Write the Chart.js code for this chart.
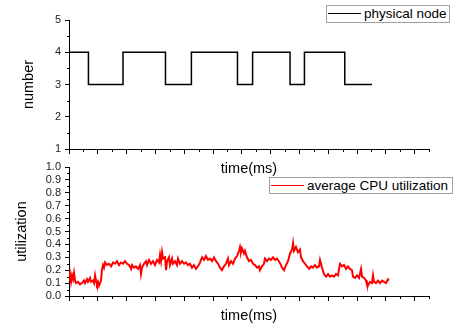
<!DOCTYPE html>
<html>
<head>
<meta charset="utf-8">
<script src="https://cdn.jsdelivr.net/npm/chart.js@4.4.1/dist/chart.umd.min.js"></script>
<style>
body { margin: 0; background: #fff; }
#wrap { position: relative; width: 454px; height: 325px; overflow: hidden; font-family: "Liberation Sans", Arial, sans-serif; }
canvas { position: absolute; left: 0; }
#cvTop { top: 0; }
#cvBottom { top: 155px; }
.legend { position: absolute; box-sizing: border-box; border: 1px solid #a0a0a0; background: #fff; z-index: 2; }
.legend .swatch { position: absolute; left: 1px; top: 7px; width: 33px; height: 0; border-top: 1.5px solid; }
.legend .txt { position: absolute; left: 37px; top: 0; font-size: 13.5px; line-height: 16px; color: #000; white-space: nowrap; }
</style>
</head>
<body>
<div id="wrap">
    <canvas id="cvTop" width="454" height="185"></canvas>
    <canvas id="cvBottom" width="454" height="170"></canvas>
    <div class="legend" style="left:326px; top:5px; width:124px; height:18px;">
        <span class="swatch" style="border-color:#000;"></span><span class="txt">physical node</span>
    </div>
    <div class="legend" style="left:269px; top:177px; width:184px; height:17px;">
        <span class="swatch" style="border-color:#ff0000;"></span><span class="txt">average CPU utilization</span>
    </div>
</div>
<script>
// physical node count (step changes)
const nodeTimes = [0, 13.5, 37.5, 67, 85, 117, 127.5, 153.5, 163.5, 191.5, 210.5];
const nodeCounts = [4, 3, 4, 3, 4, 3, 4, 3, 4, 3, 3];

// average CPU utilization
const cpuTimes = [0, 0.7, 1.4, 2.1, 2.8, 3.5, 4.2, 4.9, 6.25, 7.6, 9.0, 10.4, 11.1, 12.5, 13.2, 14.6, 15.3, 16.7, 17.4, 18.1,
    18.75, 19.4, 20.1, 20.8, 21.5, 22.2, 22.9, 23.6, 24.3, 25, 26.4, 27.8, 29.2, 30.6, 31.9, 33.3, 34.7, 36.1, 37.5, 38.9,
    40.3, 41.7, 43.1, 43.75, 45.1, 46.5, 47.9, 49.3, 50, 50.7, 52.1, 53.5, 54.2, 55.6, 56.9, 58.3, 59.7, 61.1, 62.5, 63.2,
    63.9, 64.6, 65.3, 66.7, 67.4, 68.1, 69.4, 70.1, 71.5, 72.2, 73.6, 75, 75.7, 77.1, 78.5, 79.9, 81.25, 82.6, 84, 85.4,
    86.8, 88.2, 89.6, 91, 92.4, 93.75, 95.1, 96.5, 97.9, 99.3, 100.7, 102.1, 103.5, 104.9, 106.25, 107.6, 109, 110.4, 111.1, 112.5,
    113.9, 115.3, 116.7, 118.1, 118.75, 119.4, 120.1, 121.5, 122.2, 123.6, 125, 126.4, 127.8, 129.2, 130.6, 131.9, 132.6, 134, 135.4, 136.1,
    137.5, 138.9, 140.3, 141.7, 143.1, 144.4, 145.8, 147.2, 147.9, 149.3, 150.7, 152.1, 153.5, 154.9, 155.6, 156.25, 157.6, 159, 160.4, 161.1,
    162.5, 163.9, 165.3, 166.7, 168.1, 169.4, 170.8, 172.2, 173.6, 174.3, 175.7, 177.1, 178.5, 179.9, 181.25, 182.6, 184, 185.4, 186.8, 187.5,
    188.2, 189.6, 191, 192.4, 193.75, 195.1, 196.5, 197.2, 198.6, 200, 201.4, 202.8, 203.5, 204.9, 206.25, 206.9, 207.6, 209, 210.4, 211.1,
    211.8, 213.2, 214.6, 216, 217.4, 218.75, 220.1, 221.5, 222.2];
const cpuValues = [0.12, 0.17, 0.11, 0.16, 0.13, 0.18, 0.12, 0.10, 0.11, 0.09, 0.10, 0.12, 0.10, 0.13, 0.11, 0.14, 0.11, 0.12, 0.10, 0.16,
    0.12, 0.09, 0.11, 0.08, 0.10, 0.12, 0.20, 0.24, 0.22, 0.26, 0.24, 0.25, 0.23, 0.26, 0.25, 0.27, 0.24, 0.26, 0.25, 0.27,
    0.25, 0.24, 0.21, 0.24, 0.22, 0.23, 0.21, 0.24, 0.17, 0.22, 0.25, 0.27, 0.24, 0.28, 0.25, 0.27, 0.24, 0.28, 0.26, 0.32,
    0.27, 0.34, 0.29, 0.30, 0.20, 0.27, 0.30, 0.24, 0.29, 0.25, 0.27, 0.24, 0.29, 0.25, 0.27, 0.25, 0.26, 0.24, 0.25, 0.22,
    0.24, 0.21, 0.23, 0.26, 0.30, 0.28, 0.31, 0.28, 0.29, 0.27, 0.30, 0.27, 0.25, 0.22, 0.20, 0.23, 0.25, 0.29, 0.24, 0.27,
    0.25, 0.29, 0.31, 0.35, 0.38, 0.34, 0.37, 0.33, 0.35, 0.30, 0.27, 0.28, 0.25, 0.24, 0.22, 0.23, 0.20, 0.23, 0.25, 0.29,
    0.27, 0.29, 0.28, 0.30, 0.28, 0.29, 0.27, 0.24, 0.22, 0.20, 0.24, 0.27, 0.33, 0.36, 0.41, 0.35, 0.38, 0.34, 0.36, 0.30,
    0.27, 0.25, 0.23, 0.21, 0.23, 0.22, 0.24, 0.22, 0.23, 0.28, 0.22, 0.17, 0.15, 0.17, 0.15, 0.16, 0.15, 0.17, 0.16, 0.21,
    0.25, 0.23, 0.24, 0.21, 0.23, 0.21, 0.20, 0.15, 0.14, 0.16, 0.14, 0.21, 0.15, 0.14, 0.12, 0.09, 0.08, 0.11, 0.10, 0.16,
    0.11, 0.10, 0.12, 0.10, 0.12, 0.11, 0.10, 0.13, 0.12];

const timeMin = 0, timeMax = 250, timeStep = 20;

// short ticks halfway between the labelled ones
const minorTicks = {
    id: 'minorTicks',
    afterDraw(chart) {
        let ctx = chart.ctx;
        ctx.save();
        ctx.strokeStyle = '#000';
        ctx.lineWidth = 1;
        Object.values(chart.scales).forEach(scale => {
            let vals = scale.ticks.map(t => t.value);
            if (vals.length < 2) return;
            let half = (vals[1] - vals[0]) / 2;
            ctx.beginPath();
            for (let v = vals[0] + half; v <= scale.max + 1e-9; v += 2 * half) {
                if (scale.isHorizontal()) {
                    let x = Math.round(scale.getPixelForValue(v)) + 0.5;
                    ctx.moveTo(x, scale.top);
                    ctx.lineTo(x, scale.top + 3);
                } else {
                    let y = Math.round(scale.getPixelForValue(v)) + 0.5;
                    ctx.moveTo(scale.right - 2, y);
                    ctx.lineTo(scale.right, y);
                }
            }
            ctx.stroke();
        });
        ctx.restore();
    }
};

const tickFont = { family: '"Liberation Sans", Arial, sans-serif', size: 11, lineHeight: 1 };
const titleFont = { family: '"Liberation Sans", Arial, sans-serif', size: 14.5 };

function xAxis(height, titlePad) {
    return {
        type: 'linear',
        min: timeMin,
        max: timeMax,
        ticks: { display: false, stepSize: timeStep, includeBounds: false },
        grid: { drawOnChartArea: false, color: '#000', tickColor: '#000', tickLength: 5 },
        border: { color: '#000', width: 1 },
        title: { display: true, text: 'time(ms)', color: '#000', font: titleFont, padding: { top: 0, bottom: titlePad } },
        afterFit: (s) => { s.height = height; }
    };
}

function yAxis(min, max, step, title, titlePad, fmt) {
    return {
        min: min,
        max: max,
        ticks: { stepSize: step, autoSkip: false, color: '#222', font: tickFont, padding: 4, callback: fmt },
        grid: { drawOnChartArea: false, color: '#000', tickColor: '#000', tickLength: 4 },
        border: { color: '#000', width: 1 },
        title: { display: true, text: title, color: '#000', font: titleFont, padding: { top: titlePad, bottom: 0 } },
        afterFit: (s) => { s.width = 69; }
    };
}

function baseOptions(padding, x, y) {
    return {
        responsive: false,
        animation: false,
        devicePixelRatio: 1,
        layout: { padding: padding },
        plugins: { legend: { display: false }, tooltip: { enabled: false } },
        scales: { x: x, y: y }
    };
}

let nodeData = [];
for (let i = 0; i < nodeTimes.length; i++) {
    nodeData.push({ x: nodeTimes[i], y: nodeCounts[i] });
}
let cpuData = [];
for (let i = 0; i < cpuTimes.length; i++) {
    cpuData.push({ x: cpuTimes[i], y: cpuValues[i] });
}

new Chart(document.getElementById('cvTop').getContext('2d'), {
    type: 'line',
    data: {
        datasets: [{
            label: 'physical node',
            data: nodeData,
            borderColor: '#000',
            borderWidth: 1.5,
            pointRadius: 0,
            stepped: 'before'
        }]
    },
    options: baseOptions({ left: 0, right: 25, top: 20, bottom: 0 },
        xAxis(36, 7.6),
        yAxis(1, 5, 1, 'number', 20, (v) => v)),
    plugins: [minorTicks]
});

new Chart(document.getElementById('cvBottom').getContext('2d'), {
    type: 'line',
    data: {
        datasets: [{
            label: 'average CPU utilization',
            data: cpuData,
            borderColor: '#ff0000',
            borderWidth: 2,
            pointRadius: 0,
            tension: 0
        }]
    },
    options: baseOptions({ left: 0, right: 25, top: 12, bottom: 0 },
        xAxis(29, 0),
        yAxis(0, 1, 0.1, 'utilization', 13, (v) => Number(v).toFixed(1))),
    plugins: [minorTicks]
});
</script>
</body>
</html>
